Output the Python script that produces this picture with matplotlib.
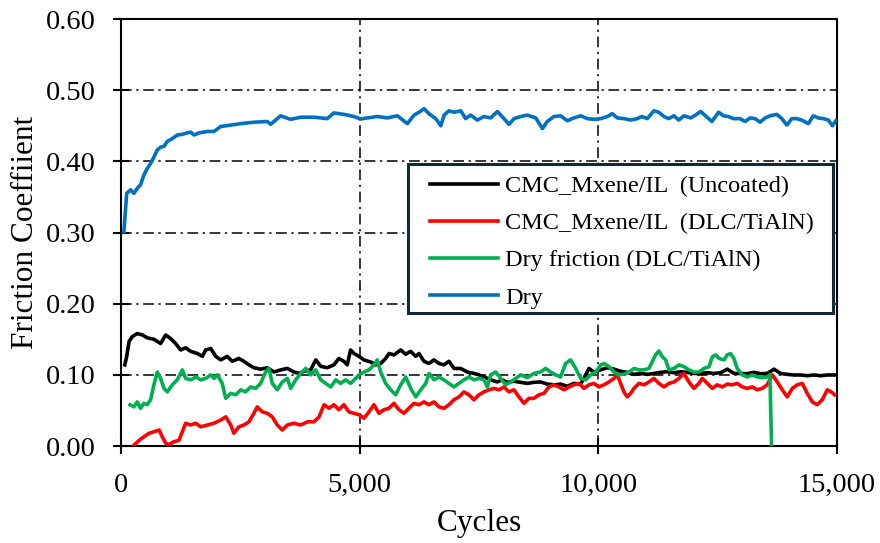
import matplotlib
matplotlib.use("Agg")
import matplotlib.pyplot as plt
from matplotlib.patches import Rectangle
from matplotlib.ticker import FuncFormatter, MultipleLocator

plt.rcParams['font.family'] = ['Liberation Serif', 'DejaVu Serif']

# ---- data: friction coefficient vs. sliding cycles ----
labels = ["CMC_Mxene/IL  (Uncoated)", "CMC_Mxene/IL  (DLC/TiAlN)",
          "Dry friction (DLC/TiAlN)", "Dry"]
colors = ["#000000", "#ff0000", "#00b050", "#0070c0"]

uncoated_cycles = [80, 120, 170, 240, 340, 450, 550, 690, 830, 935, 1040, 1145, 1250, 1355, 1460,
                   1600, 1705, 1775, 1880, 1985, 2090, 2225, 2330, 2470, 2575, 2680, 2785, 2925,
                   3065, 3205, 3345, 3485, 3625, 3730, 3835, 3975, 4080, 4185, 4320, 4460, 4565,
                   4670, 4740, 4810, 4881, 4986, 5091, 5231, 5336, 5441, 5545, 5615, 5719, 5860,
                   5964, 6069, 6174, 6243, 6348, 6452, 6557, 6662, 6767, 6872, 6977, 7117, 7255,
                   7395, 7500, 7605, 7745, 7884, 7988, 8093, 8233, 8373, 8512, 8652, 8793, 8932,
                   9071, 9211, 9350, 9490, 9630, 9735, 9805, 9909, 10049, 10189, 10328, 10468,
                   10607, 10747, 10887, 11026, 11166, 11306, 11445, 11585, 11725, 11864, 12004,
                   12143, 12283, 12423, 12562, 12702, 12842, 12981, 13121, 13261, 13400, 13540,
                   13680, 13819, 13959, 14099, 14238, 14378, 14518, 14657, 14797, 14951]
uncoated_mu = [0.114, 0.126, 0.147, 0.154, 0.158, 0.156, 0.152, 0.150, 0.144, 0.156, 0.151, 0.144,
               0.135, 0.138, 0.133, 0.130, 0.126, 0.135, 0.137, 0.126, 0.121, 0.126, 0.119, 0.123,
               0.119, 0.114, 0.110, 0.108, 0.110, 0.104, 0.107, 0.109, 0.104, 0.102, 0.105, 0.107,
               0.121, 0.112, 0.110, 0.114, 0.123, 0.119, 0.114, 0.135, 0.130, 0.126, 0.121, 0.118,
               0.114, 0.116, 0.123, 0.130, 0.128, 0.135, 0.129, 0.133, 0.126, 0.130, 0.119, 0.116,
               0.121, 0.116, 0.114, 0.119, 0.109, 0.109, 0.104, 0.102, 0.100, 0.097, 0.093, 0.090,
               0.093, 0.0895, 0.091, 0.0895, 0.088, 0.0895, 0.090, 0.087, 0.086, 0.087, 0.084,
               0.088, 0.087, 0.100, 0.109, 0.104, 0.107, 0.110, 0.108, 0.105, 0.1035, 0.1007,
               0.102, 0.1007, 0.102, 0.1035, 0.1044, 0.103, 0.1044, 0.1035, 0.102, 0.102, 0.103,
               0.102, 0.103, 0.108, 0.102, 0.102, 0.1016, 0.1035, 0.1016, 0.102, 0.108, 0.102,
               0.1007, 0.0998, 0.0998, 0.0988, 0.0998, 0.0988, 0.0998, 0.0998]

dlc_cycles = [270, 380, 480, 590, 690, 800, 865, 935, 1005, 1110, 1215, 1285, 1355, 1460, 1565,
              1670, 1810, 1950, 2090, 2195, 2300, 2365, 2470, 2575, 2680, 2785, 2855, 2960, 3065,
              3170, 3275, 3380, 3485, 3625, 3765, 3905, 4045, 4150, 4255, 4360, 4460, 4565, 4670,
              4775, 4880, 4986, 5091, 5196, 5300, 5405, 5510, 5615, 5719, 5824, 5929, 6034, 6138,
              6243, 6348, 6453, 6558, 6662, 6767, 6872, 6977, 7081, 7186, 7291, 7395, 7500, 7605,
              7710, 7815, 7919, 8024, 8129, 8233, 8338, 8443, 8548, 8652, 8757, 8862, 8966, 9071,
              9176, 9280, 9385, 9490, 9595, 9699, 9804, 9909, 10014, 10119, 10223, 10328, 10398,
              10468, 10538, 10607, 10677, 10747, 10852, 10957, 11061, 11166, 11271, 11376, 11480,
              11585, 11690, 11794, 11899, 12004, 12108, 12178, 12283, 12388, 12493, 12597, 12702,
              12807, 12911, 13016, 13121, 13226, 13330, 13435, 13540, 13645, 13750, 13854, 13959,
              14064, 14169, 14273, 14378, 14483, 14587, 14692, 14797, 14881, 14951]
dlc_mu = [0.001, 0.008, 0.013, 0.018, 0.020, 0.0225, 0.013, 0.004, 0.002, 0.006, 0.008, 0.020,
          0.032, 0.0295, 0.032, 0.027, 0.0295, 0.032, 0.0365, 0.041, 0.0295, 0.018, 0.027, 0.0295,
          0.034, 0.046, 0.055, 0.048, 0.046, 0.041, 0.0295, 0.0225, 0.0295, 0.032, 0.0295, 0.034,
          0.034, 0.041, 0.058, 0.053, 0.058, 0.051, 0.058, 0.048, 0.046, 0.044, 0.039, 0.048,
          0.058, 0.046, 0.051, 0.053, 0.060, 0.051, 0.046, 0.053, 0.060, 0.058, 0.062, 0.058,
          0.062, 0.055, 0.053, 0.058, 0.065, 0.069, 0.076, 0.072, 0.065, 0.072, 0.076, 0.079,
          0.081, 0.079, 0.083, 0.076, 0.079, 0.069, 0.060, 0.067, 0.067, 0.072, 0.074, 0.083,
          0.086, 0.083, 0.079, 0.083, 0.086, 0.088, 0.081, 0.086, 0.088, 0.083, 0.086, 0.090,
          0.095, 0.100, 0.088, 0.076, 0.069, 0.074, 0.081, 0.088, 0.086, 0.090, 0.095, 0.088,
          0.083, 0.088, 0.090, 0.095, 0.102, 0.090, 0.081, 0.088, 0.095, 0.088, 0.081, 0.086,
          0.083, 0.087, 0.086, 0.088, 0.083, 0.081, 0.083, 0.079, 0.081, 0.086, 0.100, 0.090,
          0.079, 0.069, 0.081, 0.086, 0.088, 0.074, 0.062, 0.058, 0.065, 0.079, 0.076, 0.072]

dryc_cycles = [190, 270, 340, 410, 480, 550, 620, 690, 760, 830, 900, 970, 1075, 1180, 1285, 1355,
               1460, 1565, 1670, 1775, 1880, 1950, 2020, 2120, 2195, 2300, 2405, 2510, 2610, 2715,
               2820, 2925, 3030, 3100, 3170, 3275, 3380, 3485, 3555, 3660, 3765, 3870, 3975, 4080,
               4185, 4290, 4395, 4500, 4600, 4705, 4810, 4900, 4990, 5090, 5195, 5300, 5370, 5440,
               5545, 5650, 5755, 5860, 5965, 6070, 6175, 6280, 6385, 6455, 6560, 6660, 6765, 6870,
               6975, 7080, 7185, 7290, 7395, 7500, 7605, 7675, 7745, 7850, 7955, 8060, 8165, 8270,
               8375, 8515, 8650, 8790, 8895, 9000, 9105, 9210, 9315, 9420, 9525, 9630, 9735, 9840,
               9945, 10050, 10120, 10225, 10330, 10435, 10540, 10640, 10750, 10850, 10955, 11060,
               11130, 11200, 11270, 11340, 11410, 11480, 11585, 11690, 11795, 11900, 12005, 12110,
               12215, 12320, 12390, 12460, 12530, 12635, 12700, 12770, 12840, 12910, 13015, 13120,
               13225, 13330, 13435, 13540, 13595, 13630]
dryc_mu = [0.058, 0.055, 0.062, 0.053, 0.060, 0.058, 0.065, 0.086, 0.104, 0.095, 0.081, 0.076,
           0.086, 0.093, 0.107, 0.095, 0.093, 0.097, 0.093, 0.095, 0.100, 0.095, 0.100, 0.088,
           0.067, 0.074, 0.072, 0.079, 0.076, 0.083, 0.081, 0.088, 0.104, 0.109, 0.088, 0.079,
           0.090, 0.095, 0.081, 0.093, 0.102, 0.109, 0.100, 0.107, 0.093, 0.088, 0.083, 0.093,
           0.088, 0.093, 0.088, 0.094, 0.100, 0.104, 0.107, 0.114, 0.121, 0.104, 0.088, 0.079,
           0.072, 0.086, 0.097, 0.081, 0.069, 0.079, 0.088, 0.102, 0.093, 0.097, 0.093, 0.088,
           0.083, 0.088, 0.093, 0.097, 0.093, 0.095, 0.093, 0.083, 0.100, 0.104, 0.095, 0.086,
           0.090, 0.095, 0.100, 0.096, 0.102, 0.104, 0.109, 0.104, 0.100, 0.097, 0.116, 0.121,
           0.109, 0.095, 0.093, 0.100, 0.104, 0.114, 0.116, 0.1115, 0.104, 0.100, 0.101, 0.104,
           0.109, 0.107, 0.107, 0.109, 0.1185, 0.128, 0.1335, 0.1255, 0.121, 0.107, 0.109, 0.114,
           0.1115, 0.107, 0.104, 0.104, 0.109, 0.1115, 0.1255, 0.128, 0.123, 0.121, 0.128, 0.130,
           0.123, 0.109, 0.100, 0.097, 0.100, 0.097, 0.096, 0.097, 0.100, 0.000]

dry_cycles = [60, 120, 200, 270, 340, 410, 480, 550, 620, 690, 760, 830, 900, 970, 1075, 1180,
              1285, 1390, 1460, 1530, 1635, 1810, 1950, 2090, 2300, 2510, 2790, 3065, 3135, 3345,
              3555, 3765, 4045, 4320, 4460, 4670, 4880, 5020, 5160, 5370, 5580, 5790, 6000, 6140,
              6245, 6350, 6450, 6595, 6700, 6770, 6870, 6980, 7120, 7220, 7325, 7465, 7605, 7745,
              7885, 8025, 8130, 8235, 8375, 8510, 8690, 8830, 8930, 9070, 9210, 9350, 9490, 9630,
              9770, 9910, 10050, 10190, 10290, 10400, 10540, 10680, 10815, 10915, 11025, 11165,
              11265, 11375, 11475, 11585, 11685, 11795, 11935, 12035, 12145, 12245, 12380, 12520,
              12620, 12725, 12830, 12970, 13075, 13180, 13285, 13390, 13495, 13600, 13740, 13845,
              13950, 14055, 14155, 14260, 14400, 14505, 14610, 14715, 14820, 14905, 14975]
dry_mu = [0.301, 0.355, 0.360, 0.355, 0.362, 0.367, 0.381, 0.390, 0.397, 0.406, 0.416, 0.420,
          0.421, 0.428, 0.432, 0.437, 0.438, 0.440, 0.441, 0.437, 0.440, 0.442, 0.442, 0.449,
          0.451, 0.453, 0.455, 0.456, 0.452, 0.464, 0.459, 0.462, 0.462, 0.460, 0.468, 0.466,
          0.463, 0.4595, 0.461, 0.463, 0.461, 0.464, 0.453, 0.465, 0.469, 0.474, 0.467, 0.460,
          0.450, 0.465, 0.471, 0.469, 0.471, 0.460, 0.465, 0.458, 0.463, 0.461, 0.470, 0.460,
          0.452, 0.460, 0.463, 0.465, 0.461, 0.446, 0.456, 0.463, 0.464, 0.457, 0.461, 0.464,
          0.460, 0.459, 0.460, 0.463, 0.467, 0.461, 0.460, 0.458, 0.460, 0.463, 0.460, 0.471,
          0.469, 0.463, 0.460, 0.464, 0.458, 0.464, 0.461, 0.465, 0.470, 0.464, 0.456, 0.469,
          0.464, 0.463, 0.460, 0.460, 0.456, 0.461, 0.460, 0.455, 0.461, 0.464, 0.466, 0.460,
          0.451, 0.460, 0.460, 0.458, 0.453, 0.464, 0.461, 0.460, 0.458, 0.450, 0.457]

series = [(uncoated_cycles, uncoated_mu), (dlc_cycles, dlc_mu),
          (dryc_cycles, dryc_mu), (dry_cycles, dry_mu)]

# ---- figure ----
fig = plt.figure(figsize=(8.8, 5.43), dpi=100)
ax = fig.add_axes([0.1375, 0.1786, 0.8136, 0.7864])

for (cx, cy), lab, col in zip(series, labels, colors):
    ax.plot(cx, cy, color=col, lw=2.6, label=lab, solid_joinstyle='round', zorder=3)

ax.set_xlim(0, 15000)
ax.set_ylim(0, 0.60)
ax.xaxis.set_major_locator(MultipleLocator(5000))
ax.yaxis.set_major_locator(MultipleLocator(0.1))
ax.xaxis.set_major_formatter(FuncFormatter(lambda v, p: f"{int(v):,}"))
ax.yaxis.set_major_formatter(FuncFormatter(lambda v, p: f"{v:.2f}"))

ax.grid(True, color='black', lw=1.1, linestyle=(0, (7, 3, 1.5, 3)), zorder=1)
for s in ax.spines.values():
    s.set_linewidth(1.5)
    s.set_color('black')
ax.tick_params(axis='both', direction='inout', length=11, width=1.5,
               labelsize=20.5, colors='black')
ax.tick_params(axis='y', pad=13)
ax.tick_params(axis='x', pad=14)

ax.set_xlabel("Cycles", fontsize=22.5, labelpad=8)
ax.set_ylabel("Friction Coeffiient", fontsize=22.5, labelpad=4)

# legend panel: white box with a dark frame, entries placed inside it
panel = Rectangle((0.401, 0.311), 0.593, 0.349, transform=ax.transAxes,
                  facecolor='white', edgecolor='#13293a', lw=2.2, zorder=4)
ax.add_patch(panel)
leg = ax.legend(loc='upper left', bbox_to_anchor=(0.4316, 0.634), fontsize=17.5,
                frameon=False, handlelength=2.8, handletextpad=0.3,
                labelspacing=0.62, borderpad=0, borderaxespad=0)
leg.set_zorder(5)

fig.savefig("out.png", dpi=100)
